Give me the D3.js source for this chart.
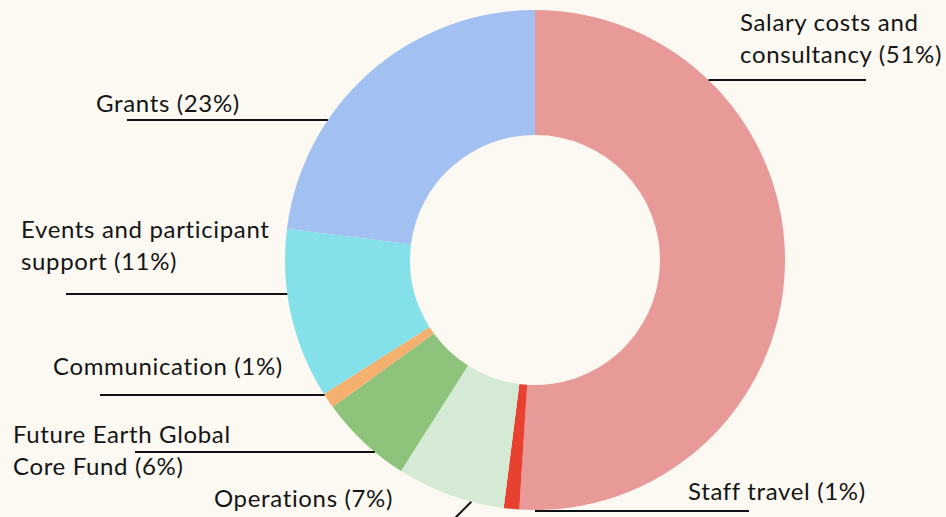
<!DOCTYPE html>
<html>
<head>
<meta charset="utf-8">
<script src="https://cdn.jsdelivr.net/npm/d3@7"></script>
<style>
  html, body { margin: 0; padding: 0; background: #fcf9f3; }
  svg { display: block; }
  text { font-family: "Lato", "Open Sans", sans-serif; font-size: 24px; letter-spacing: 0.65px; fill: #151515; }
</style>
</head>
<body>
<svg id="chart"></svg>
<script>
// donnees du graphique
const categories = ["Salary costs and consultancy", "Staff travel", "Operations",
    "Future Earth Global Core Fund", "Communication", "Events and participant support", "Grants"]
const values = [51, 1, 7, 6, 1, 11, 23]
const labelLines = [
    ["Salary costs and", "consultancy (51%)"],
    ["Staff travel (1%)"],
    ["Operations (7%)"],
    ["Future Earth Global", "Core Fund (6%)"],
    ["Communication (1%)"],
    ["Events and participant", "support (11%)"],
    ["Grants (23%)"]
]
const colors = ["#e89a99", "#e8412f", "#d5ead4", "#8ec37b", "#f4b06f", "#84e1e9", "#a3c0f3"]

// mise en page des etiquettes (x du texte, y de la premiere ligne, y du trait, x du bout libre du trait)
const layout = [
    { x: 740, y: 31, lineY: 80, lineEnd: 866, side: "right" },
    { x: 688, y: 500, lineY: 511, lineEnd: 749, side: "right" },
    { x: 214, y: 507, diag: true },
    { x: 13, y: 443, lineY: 452, lineEnd: 135, side: "left" },
    { x: 53, y: 375, lineY: 395, lineEnd: 100, side: "left" },
    { x: 21, y: 238, lineY: 294, lineEnd: 66, side: "left" },
    { x: 96, y: 112, lineY: 120, lineEnd: 127, side: "left" }
]

const width = 946, height = 517
const cx = 535, cy = 260
const outerR = 250, innerR = 125
const lineH = 32

const svg = d3.select("#chart")
    .attr("width", width)
    .attr("height", height)

const g = svg.append("g").attr("transform", `translate(${cx},${cy})`)

const pie = d3.pie().sort(null).value(d => d)
const arcs = pie(values)
const arc = d3.arc().innerRadius(innerR).outerRadius(outerR)

g.selectAll("path")
    .data(arcs)
    .join("path")
    .attr("d", arc)
    .style("fill", (d, i) => colors[i])

// traits des etiquettes
const lines = svg.append("g")
for (let i = 0; i < categories.length; i++) {
    const l = layout[i]
    if (l.diag) {
        // trait oblique qui part du bord du donut
        const a = arcs[i].startAngle + (arcs[i].endAngle - arcs[i].startAngle) * 0.3
        const x1 = cx + outerR * Math.sin(a)
        const y1 = cy - outerR * Math.cos(a)
        lines.append("line")
            .attr("x1", x1).attr("y1", y1)
            .attr("x2", x1 - 20).attr("y2", y1 + 20)
            .style("stroke", "#111").style("stroke-width", 2)
        continue
    }
    const dy = l.lineY - cy
    const dx = Math.sqrt(Math.max(0, outerR * outerR - dy * dy))
    const edgeX = l.side === "right" ? cx + dx : cx - dx
    lines.append("line")
        .attr("x1", l.lineEnd).attr("y1", l.lineY)
        .attr("x2", edgeX).attr("y2", l.lineY)
        .style("stroke", "#111").style("stroke-width", 2)
}

// textes
const labels = svg.append("g")
labelLines.forEach((ls, i) => {
    const t = labels.append("text")
        .attr("x", layout[i].x)
        .attr("y", layout[i].y)
    ls.forEach((s, k) => {
        t.append("tspan")
            .attr("x", layout[i].x)
            .attr("dy", k === 0 ? 0 : lineH)
            .text(s)
    })
})
</script>
</body>
</html>
